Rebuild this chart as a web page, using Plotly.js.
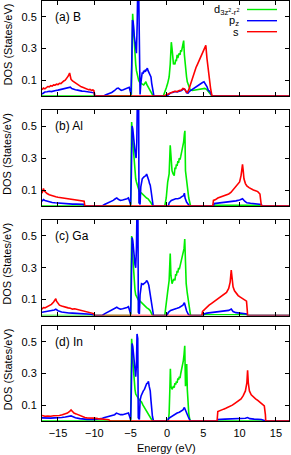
<!DOCTYPE html>
<html><head><meta charset="utf-8">
<script src="https://cdn.plot.ly/plotly-3.0.1.min.js"></script>
<style>html,body{margin:0;padding:0;background:#fff}#plot{width:291px;height:455px}</style>
</head><body><div id="plot"></div>
<script>
// Panel labels and series names
const panelLabels = ['(a) B', '(b) Al', '(c) Ga', '(d) In'];
const seriesNames = ['d<sub>3z<sup>2</sup>-r<sup>2</sup></sub>', 'p<sub>z</sub>', 's'];
const xTicks = [-15, -10, -5, 0, 5, 10, 15];
const yTicks = [0.1, 0.3, 0.5];

// ---- (a) B : [energy (eV), DOS] ----
const d_B = [[-17.2,0],[-5.0,0],[-4.9,0.01],[-4.8,0.45],[-4.72,0.52],[-4.6,0.42],[-4.5,0.33],[-4.4,0.27],[-4.3,0.2],[-4.2,0.16],[-4.1,0.13],[-4.0,0.11],[-3.9,0.1],[-3.8,0.09],[-3.6,0.08],[-3.4,0.075],[-3.2,0.07],[-3.0,0.085],[-2.9,0.09],[-2.8,0.075],[-2.6,0.06],[-2.4,0.04],[-2.2,0.025],[-2.0,0.01],[-1.9,0],[-0.5,0],[-0.3,0.02],[-0.1,0.05],[0.1,0.08],[0.3,0.12],[0.45,0.2],[0.6,0.34],[0.7,0.3],[0.8,0.22],[0.9,0.2],[1.0,0.21],[1.1,0.2],[1.2,0.23],[1.3,0.22],[1.4,0.26],[1.5,0.24],[1.6,0.26],[1.7,0.27],[1.8,0.26],[1.9,0.29],[2.0,0.28],[2.1,0.31],[2.2,0.33],[2.3,0.35],[2.4,0.26],[2.5,0.19],[2.6,0.16],[2.7,0.12],[2.8,0.09],[3.0,0.06],[3.2,0.04],[3.5,0.035],[3.8,0.038],[4.1,0.04],[4.4,0.042],[4.7,0.045],[5.0,0.05],[5.2,0.048],[5.5,0.04],[5.8,0.02],[6.1,0.005],[6.2,0],[16.8,0]];
const p_B = [[-17.2,0.012],[-17.0,0.02],[-16.8,0.025],[-16.5,0.027],[-16.2,0.03],[-15.9,0.028],[-15.6,0.033],[-15.3,0.035],[-15.0,0.037],[-14.7,0.04],[-14.4,0.042],[-14.1,0.045],[-13.8,0.05],[-13.5,0.053],[-13.3,0.056],[-13.1,0.047],[-12.9,0.043],[-12.6,0.04],[-12.3,0.037],[-12.0,0.033],[-11.7,0.031],[-11.4,0.03],[-11.1,0.028],[-10.8,0.027],[-10.5,0.025],[-10.2,0.024],[-10.0,0.02],[-9.95,0],[-8.7,0],[-8.4,0.008],[-8.0,0.015],[-7.6,0.022],[-7.2,0.035],[-6.9,0.048],[-6.7,0.05],[-6.5,0.04],[-6.3,0.035],[-6.0,0.04],[-5.7,0.045],[-5.4,0.05],[-5.2,0.055],[-5.05,0.03],[-4.95,0.01],[-4.85,0.2],[-4.75,0.48],[-4.65,0.47],[-4.5,0.38],[-4.4,0.33],[-4.3,0.3],[-4.2,0.27],[-4.1,0.45],[-4.0,0.75],[-3.9,0.7],[-3.8,0.02],[-3.7,0.01],[-3.6,0.08],[-3.5,0.12],[-3.4,0.15],[-3.3,0.14],[-3.2,0.16],[-3.1,0.15],[-3.0,0.165],[-2.9,0.16],[-2.8,0.17],[-2.7,0.175],[-2.6,0.16],[-2.5,0.15],[-2.4,0.14],[-2.3,0.125],[-2.2,0.12],[-2.1,0.08],[-2.0,0.04],[-1.9,0.01],[-1.8,0],[0.0,0],[0.2,0.008],[0.5,0.02],[0.8,0.022],[1.1,0.028],[1.4,0.025],[1.7,0.03],[2.0,0.035],[2.3,0.045],[2.5,0.04],[2.7,0.02],[2.9,0.018],[3.1,0.03],[3.4,0.04],[3.7,0.045],[4.0,0.06],[4.3,0.07],[4.6,0.075],[4.9,0.085],[5.1,0.09],[5.3,0.075],[5.5,0.06],[5.7,0.035],[5.9,0.03],[6.1,0.01],[6.2,0],[16.8,0]];
const s_B = [[-17.2,0.04],[-17.0,0.05],[-16.8,0.045],[-16.6,0.055],[-16.4,0.06],[-16.2,0.058],[-16.0,0.065],[-15.8,0.062],[-15.6,0.07],[-15.4,0.068],[-15.2,0.075],[-15.0,0.072],[-14.8,0.08],[-14.6,0.078],[-14.4,0.088],[-14.2,0.095],[-14.0,0.1],[-13.8,0.11],[-13.6,0.125],[-13.4,0.145],[-13.3,0.13],[-13.2,0.105],[-13.0,0.095],[-12.8,0.088],[-12.6,0.082],[-12.4,0.075],[-12.2,0.07],[-12.0,0.064],[-11.8,0.058],[-11.6,0.055],[-11.4,0.05],[-11.2,0.046],[-11.0,0.045],[-10.8,0.04],[-10.6,0.042],[-10.4,0.036],[-10.2,0.038],[-10.05,0.033],[-9.95,0],[-0.3,0],[-0.2,0.005],[0.2,0.015],[0.5,0.022],[0.8,0.025],[1.1,0.03],[1.4,0.028],[1.7,0.035],[2.0,0.038],[2.2,0.048],[2.4,0.045],[2.6,0.03],[2.8,0.022],[3.0,0.04],[3.2,0.07],[3.4,0.1],[3.6,0.13],[3.8,0.16],[4.0,0.18],[4.2,0.2],[4.4,0.22],[4.6,0.25],[4.8,0.27],[5.0,0.29],[5.2,0.31],[5.35,0.32],[5.5,0.24],[5.65,0.17],[5.8,0.1],[6.0,0.05],[6.2,0],[16.8,0]];

// ---- (b) Al ----
const d_Al = [[-17.2,0],[-5.0,0],[-4.92,0.3],[-4.86,0.525],[-4.78,0.45],[-4.7,0.4],[-4.6,0.33],[-4.5,0.28],[-4.4,0.22],[-4.3,0.17],[-4.2,0.15],[-4.0,0.11],[-3.8,0.09],[-3.5,0.08],[-3.2,0.065],[-3.0,0.06],[-2.8,0.05],[-2.6,0.045],[-2.4,0.035],[-2.2,0.02],[-2.0,0.005],[-1.9,0],[-0.3,0],[-0.1,0.05],[0.1,0.15],[0.3,0.2],[0.45,0.38],[0.55,0.28],[0.7,0.22],[0.85,0.2],[1.0,0.19],[1.1,0.24],[1.2,0.23],[1.3,0.26],[1.4,0.25],[1.5,0.28],[1.6,0.27],[1.7,0.3],[1.8,0.29],[1.9,0.31],[2.0,0.33],[2.1,0.35],[2.2,0.37],[2.3,0.4],[2.4,0.45],[2.47,0.47],[2.55,0.22],[2.7,0.15],[2.8,0.1],[3.0,0.05],[3.15,0.02],[3.25,0],[6.4,0],[6.5,0.005],[13.0,0.005],[13.1,0],[16.8,0]];
const p_Al = [[-17.2,0.03],[-17.0,0.04],[-16.8,0.035],[-16.5,0.03],[-16.2,0.025],[-15.8,0.022],[-15.4,0.02],[-15.0,0.018],[-14.5,0.017],[-14.0,0.015],[-13.5,0.014],[-13.0,0.012],[-12.5,0.012],[-12.0,0.01],[-11.5,0.01],[-11.3,0],[-8.9,0],[-8.6,0.01],[-8.2,0.018],[-7.8,0.025],[-7.4,0.035],[-7.1,0.045],[-6.9,0.05],[-6.7,0.042],[-6.4,0.035],[-6.1,0.038],[-5.8,0.04],[-5.5,0.045],[-5.3,0.05],[-5.15,0.035],[-5.0,0.01],[-4.9,0.2],[-4.8,0.5],[-4.7,0.48],[-4.55,0.4],[-4.4,0.34],[-4.25,0.3],[-4.15,0.4],[-4.05,0.75],[-3.9,0.7],[-3.85,0.02],[-3.7,0.01],[-3.6,0.12],[-3.5,0.15],[-3.4,0.17],[-3.2,0.18],[-3.0,0.185],[-2.9,0.19],[-2.8,0.2],[-2.7,0.19],[-2.6,0.18],[-2.5,0.16],[-2.4,0.14],[-2.3,0.13],[-2.2,0.1],[-2.1,0.07],[-2.0,0.03],[-1.9,0],[0.2,0],[0.3,0.02],[0.6,0.035],[0.9,0.04],[1.2,0.045],[1.5,0.045],[1.8,0.05],[2.1,0.06],[2.3,0.065],[2.4,0.08],[2.5,0.05],[2.7,0.025],[2.9,0.01],[3.1,0],[6.4,0],[6.5,0.015],[7.0,0.018],[7.5,0.02],[8.0,0.022],[8.5,0.025],[9.0,0.028],[9.5,0.032],[10.0,0.038],[10.4,0.045],[10.7,0.03],[11.0,0.02],[11.5,0.017],[12.0,0.015],[12.5,0.014],[13.0,0.01],[13.1,0],[16.8,0]];
const s_Al = [[-17.2,0.08],[-17.1,0.1],[-17.0,0.11],[-16.9,0.095],[-16.7,0.085],[-16.5,0.078],[-16.2,0.07],[-15.9,0.065],[-15.6,0.06],[-15.3,0.058],[-15.0,0.055],[-14.7,0.053],[-14.4,0.05],[-14.1,0.047],[-13.8,0.045],[-13.5,0.042],[-13.2,0.04],[-12.9,0.038],[-12.6,0.035],[-12.3,0.036],[-12.0,0.033],[-11.7,0.032],[-11.4,0.03],[-11.3,0],[6.3,0],[6.4,0.035],[6.7,0.04],[7.0,0.05],[7.3,0.055],[7.6,0.06],[7.9,0.065],[8.2,0.07],[8.5,0.075],[8.8,0.085],[9.1,0.1],[9.4,0.115],[9.7,0.13],[10.0,0.15],[10.2,0.19],[10.4,0.26],[10.5,0.22],[10.6,0.17],[10.8,0.14],[11.0,0.125],[11.3,0.115],[11.6,0.105],[11.9,0.1],[12.2,0.095],[12.5,0.09],[12.8,0.075],[12.95,0.02],[13.0,0],[16.8,0]];

// ---- (c) Ga ----
const d_Ga = [[-17.2,0],[-5.0,0],[-4.92,0.3],[-4.86,0.5],[-4.78,0.42],[-4.7,0.36],[-4.6,0.28],[-4.5,0.2],[-4.4,0.16],[-4.3,0.13],[-4.1,0.11],[-3.9,0.095],[-3.7,0.09],[-3.5,0.08],[-3.2,0.07],[-3.0,0.06],[-2.8,0.05],[-2.5,0.04],[-2.3,0.03],[-2.1,0.01],[-2.0,0],[-0.3,0],[-0.1,0.06],[0.1,0.15],[0.3,0.22],[0.45,0.39],[0.55,0.25],[0.7,0.2],[0.85,0.22],[1.0,0.23],[1.1,0.22],[1.2,0.26],[1.3,0.25],[1.4,0.28],[1.5,0.27],[1.6,0.3],[1.7,0.29],[1.8,0.31],[2.0,0.34],[2.2,0.38],[2.35,0.42],[2.45,0.48],[2.55,0.26],[2.65,0.2],[2.8,0.14],[2.95,0.08],[3.1,0.05],[3.25,0],[5.0,0],[5.1,0.005],[11.0,0.005],[11.1,0],[16.8,0]];
const p_Ga = [[-17.2,0.02],[-16.5,0.025],[-16.0,0.03],[-15.5,0.035],[-15.3,0.04],[-15.0,0.03],[-14.5,0.022],[-14.0,0.018],[-13.5,0.016],[-13.0,0.015],[-12.5,0.013],[-12.0,0.012],[-11.5,0.01],[-11.0,0.01],[-10.5,0.008],[-10.0,0],[-8.9,0],[-8.6,0.01],[-8.2,0.02],[-7.8,0.03],[-7.4,0.04],[-7.1,0.048],[-6.9,0.052],[-6.7,0.045],[-6.4,0.04],[-6.1,0.042],[-5.8,0.045],[-5.5,0.05],[-5.3,0.055],[-5.15,0.03],[-5.0,0.01],[-4.9,0.2],[-4.8,0.49],[-4.7,0.47],[-4.55,0.38],[-4.4,0.32],[-4.3,0.3],[-4.2,0.42],[-4.1,0.75],[-4.0,0.7],[-3.94,0.02],[-3.8,0.01],[-3.7,0.13],[-3.6,0.17],[-3.5,0.2],[-3.3,0.195],[-3.1,0.2],[-2.9,0.21],[-2.8,0.22],[-2.65,0.21],[-2.5,0.19],[-2.4,0.16],[-2.3,0.14],[-2.2,0.1],[-2.1,0.07],[-2.0,0.03],[-1.85,0],[0.0,0],[0.2,0.02],[0.5,0.032],[0.8,0.035],[1.1,0.04],[1.4,0.045],[1.7,0.05],[2.0,0.06],[2.2,0.065],[2.4,0.08],[2.5,0.06],[2.7,0.03],[2.9,0.01],[3.1,0],[5.0,0],[5.1,0.01],[5.5,0.015],[6.0,0.018],[6.5,0.02],[7.0,0.022],[7.5,0.024],[8.0,0.027],[8.5,0.032],[8.85,0.04],[9.1,0.025],[9.5,0.018],[10.0,0.015],[10.5,0.012],[11.0,0.01],[11.1,0],[16.8,0]];
const s_Ga = [[-17.2,0.04],[-17.0,0.05],[-16.8,0.048],[-16.5,0.055],[-16.2,0.06],[-15.9,0.07],[-15.6,0.085],[-15.4,0.1],[-15.3,0.105],[-15.2,0.09],[-15.0,0.075],[-14.8,0.065],[-14.5,0.06],[-14.2,0.055],[-13.9,0.05],[-13.6,0.048],[-13.3,0.045],[-13.0,0.04],[-12.7,0.042],[-12.4,0.038],[-12.1,0.035],[-11.8,0.033],[-11.5,0.03],[-11.2,0.027],[-10.9,0.022],[-10.6,0.018],[-10.3,0.015],[-10.1,0.012],[-10.0,0],[4.8,0],[4.9,0.025],[5.2,0.04],[5.5,0.055],[5.8,0.065],[6.1,0.075],[6.4,0.085],[6.7,0.09],[7.0,0.1],[7.3,0.112],[7.6,0.12],[7.9,0.13],[8.2,0.145],[8.5,0.17],[8.7,0.21],[8.85,0.285],[8.95,0.22],[9.1,0.18],[9.3,0.155],[9.5,0.14],[9.8,0.125],[10.1,0.115],[10.4,0.105],[10.7,0.1],[10.95,0.09],[11.05,0.035],[11.1,0],[16.8,0]];

// ---- (d) In ----
const d_In = [[-17.2,0],[-5.0,0],[-4.92,0.3],[-4.86,0.52],[-4.78,0.45],[-4.7,0.38],[-4.6,0.3],[-4.5,0.24],[-4.4,0.2],[-4.3,0.17],[-4.1,0.15],[-3.9,0.14],[-3.7,0.13],[-3.5,0.12],[-3.3,0.1],[-3.1,0.085],[-2.9,0.07],[-2.7,0.055],[-2.5,0.04],[-2.3,0.025],[-2.1,0.01],[-2.0,0],[0.2,0],[0.3,0.05],[0.4,0.2],[0.47,0.33],[0.55,0.22],[0.7,0.2],[0.9,0.22],[1.0,0.21],[1.1,0.24],[1.2,0.23],[1.3,0.25],[1.4,0.24],[1.5,0.27],[1.6,0.26],[1.7,0.28],[1.8,0.27],[1.9,0.3],[2.1,0.34],[2.25,0.38],[2.35,0.42],[2.45,0.475],[2.55,0.22],[2.65,0.3],[2.72,0.36],[2.8,0.2],[2.9,0.1],[3.0,0.05],[3.1,0.02],[3.2,0],[16.8,0]];
const p_In = [[-17.2,0.02],[-16.5,0.018],[-16.0,0.018],[-15.5,0.02],[-15.0,0.02],[-14.5,0.022],[-14.0,0.025],[-13.5,0.028],[-13.2,0.032],[-13.0,0.028],[-12.6,0.02],[-12.0,0.015],[-11.5,0.012],[-11.0,0.01],[-10.0,0.01],[-9.5,0.012],[-9.0,0.015],[-8.7,0.02],[-8.3,0.025],[-7.9,0.03],[-7.5,0.035],[-7.2,0.04],[-6.95,0.05],[-6.7,0.045],[-6.4,0.04],[-6.1,0.04],[-5.8,0.045],[-5.5,0.048],[-5.3,0.05],[-5.15,0.03],[-5.0,0.01],[-4.9,0.2],[-4.8,0.49],[-4.7,0.47],[-4.55,0.38],[-4.4,0.3],[-4.3,0.28],[-4.2,0.35],[-4.12,0.55],[-4.02,0.52],[-3.95,0.02],[-3.8,0.01],[-3.7,0.13],[-3.55,0.16],[-3.4,0.18],[-3.25,0.19],[-3.1,0.2],[-2.95,0.22],[-2.8,0.235],[-2.65,0.24],[-2.55,0.25],[-2.45,0.22],[-2.3,0.19],[-2.2,0.13],[-2.1,0.07],[-2.0,0.03],[-1.85,0],[0.1,0],[0.2,0.015],[0.5,0.025],[0.8,0.035],[1.1,0.04],[1.4,0.05],[1.7,0.055],[2.0,0.065],[2.2,0.07],[2.4,0.085],[2.55,0.065],[2.7,0.05],[2.9,0.03],[3.1,0.01],[3.2,0],[6.9,0],[7.0,0.01],[8.0,0.012],[9.0,0.013],[10.0,0.015],[10.8,0.017],[11.1,0.022],[11.4,0.015],[12.0,0.012],[13.0,0.01],[13.6,0],[16.8,0]];
const s_In = [[-17.2,0.035],[-16.8,0.03],[-16.4,0.032],[-16.0,0.03],[-15.6,0.033],[-15.2,0.032],[-14.8,0.035],[-14.4,0.04],[-14.0,0.045],[-13.7,0.05],[-13.4,0.06],[-13.2,0.07],[-13.0,0.06],[-12.8,0.05],[-12.5,0.045],[-12.2,0.038],[-11.9,0.032],[-11.6,0.025],[-11.3,0.022],[-11.0,0.02],[-10.5,0.02],[-10.0,0.018],[-9.5,0.015],[-9.0,0.012],[-8.5,0.01],[-8.0,0.008],[-7.8,0],[6.9,0],[7.0,0.06],[7.2,0.065],[7.5,0.07],[7.8,0.075],[8.1,0.08],[8.4,0.085],[8.7,0.09],[9.0,0.1],[9.3,0.11],[9.6,0.12],[9.9,0.13],[10.2,0.14],[10.5,0.16],[10.8,0.19],[11.0,0.24],[11.1,0.32],[11.2,0.24],[11.35,0.19],[11.6,0.165],[11.9,0.15],[12.2,0.14],[12.5,0.13],[12.8,0.12],[13.1,0.11],[13.4,0.095],[13.55,0.04],[13.6,0],[16.8,0]];

const panelSeries = [[d_B, p_B, s_B], [d_Al, p_Al, s_Al], [d_Ga, p_Ga, s_Ga], [d_In, p_In, s_In]];
const colors = ['#00ee00', '#0000ff', '#ff0000'];

// layout geometry (pixels)
const W = 291, H = 455, ML = 42, MR = 2, MT = 1, MB = 34;
const PW = W - ML - MR, PH = H - MT - MB;
const panelPx = [[1, 96], [110, 206], [220, 315.5], [326, 421]]; // top, bottom
const pyToPaper = py => (H - MB - py) / PH;
const pxToPaper = px => (px - ML) / PW;

const traces = [];
panelSeries.forEach((ser, i) => {
  ser.forEach((arr, j) => {
    traces.push({
      x: arr.map(p => p[0]), y: arr.map(p => p[1]),
      type: 'scatter', mode: 'lines',
      xaxis: i === 0 ? 'x' : 'x' + (i + 1), yaxis: i === 0 ? 'y' : 'y' + (i + 1),
      line: {color: colors[j], width: 1.6}, showlegend: false, hoverinfo: 'skip'
    });
  });
});

const font = {family: 'Liberation Sans, Arial, sans-serif', size: 11, color: '#000'};
const layout = {
  width: W, height: H, margin: {l: ML, r: MR, t: MT, b: MB},
  paper_bgcolor: '#fff', plot_bgcolor: '#fff', font: font, showlegend: false,
  annotations: [], shapes: []
};
panelPx.forEach((pp, i) => {
  const sfx = i === 0 ? '' : String(i + 1);
  const dom = [pyToPaper(pp[1]), pyToPaper(pp[0])];
  layout['xaxis' + sfx] = {
    domain: [0, 1], anchor: 'y' + sfx, range: [-17.2, 16.8], tickvals: xTicks,
    ticks: 'inside', ticklen: 4, tickcolor: '#000', showline: true, linecolor: '#000', linewidth: 1,
    mirror: 'ticks', showgrid: false, zeroline: false, showticklabels: i === 3,
    tickfont: font, ticklabelstandoff: 2
  };
  layout['yaxis' + sfx] = {
    domain: dom, anchor: 'x' + sfx, range: [0, 0.6], tickvals: yTicks, ticktext: yTicks.map(v => v.toFixed(1)),
    ticks: 'inside', ticklen: 4, tickcolor: '#000', showline: true, linecolor: '#000', linewidth: 1,
    mirror: 'ticks', showgrid: false, zeroline: false, tickfont: font, ticklabelstandoff: 2
  };
  layout.annotations.push({
    xref: 'paper', yref: 'paper', x: 0, y: (dom[0] + dom[1]) / 2, xanchor: 'center', yanchor: 'middle',
    xshift: -35, yshift: 4, textangle: -90, text: 'DOS (States/eV)', showarrow: false,
    font: {family: font.family, size: 11, color: '#000'}
  });
  layout.annotations.push({
    xref: 'paper', yref: 'paper', x: pxToPaper(53), y: dom[1], xanchor: 'left', yanchor: 'middle',
    yshift: -16, text: panelLabels[i], showarrow: false, font: {family: font.family, size: 12, color: '#000'}
  });
});
layout.annotations.push({
  xref: 'paper', yref: 'paper', x: pxToPaper(166), y: 0, xanchor: 'center', yanchor: 'middle',
  yshift: -27, text: 'Energy (eV)', showarrow: false, font: {family: font.family, size: 11, color: '#000'}
});
// legend (gnuplot style: text left of line sample)
const legY = [9.5, 20.7, 31.7];
seriesNames.forEach((nm, j) => {
  layout.annotations.push({
    xref: 'paper', yref: 'paper', x: pxToPaper(241), y: pyToPaper(legY[j]), xanchor: 'right', yanchor: 'middle',
    text: nm, showarrow: false, font: {family: font.family, size: 11, color: '#000'}
  });
  layout.shapes.push({
    type: 'line', xref: 'paper', yref: 'paper', x0: pxToPaper(247), x1: pxToPaper(277),
    y0: pyToPaper(legY[j]), y1: pyToPaper(legY[j]), line: {color: colors[j], width: 1.4}
  });
});

Plotly.newPlot('plot', traces, layout, {staticPlot: true, displayModeBar: false});
</script></body></html>
